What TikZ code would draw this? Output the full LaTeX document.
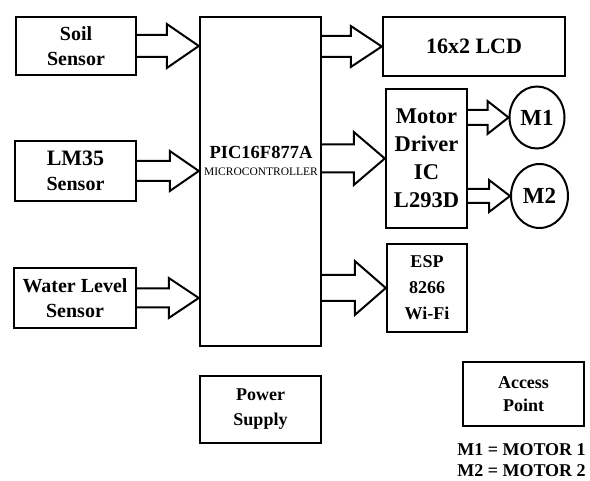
\documentclass[tikz,border=0pt]{standalone}
\usepackage{fontspec}
\setmainfont{Liberation Serif}
\usetikzlibrary{calc,shapes.geometric}

\tikzset{
    box/.style={draw,line width=2.4pt,inner sep=0pt,align=center,
        font=\bfseries\fontsize{20}{25}\selectfont},
    motor/.style={draw,ellipse,line width=2pt,inner sep=0pt,
        font=\bfseries\fontsize{23}{26}\selectfont},
    fatarrow/.style={line width=2pt,line join=miter}
}
% block arrow: start, tip, shaft half width, head half width, head length
\newcommand{\blockarrow}[5]{%
  \draw[fatarrow] ($(#1)+(0,-#3)$) -- ($(#2)+(-#5,-#3)$) -- ($(#2)+(-#5,-#4)$)
    -- (#2) -- ($(#2)+(-#5,#4)$) -- ($(#2)+(-#5,#3)$) -- ($(#1)+(0,#3)$);}

\begin{document}
\begin{tikzpicture}[x=1pt,y=-1pt]
\useasboundingbox (0,0) rectangle (590,481);
% inputs
\node[box,minimum width=120pt,minimum height=58pt] (soil) at (76,46) {Soil\\Sensor};
\node[box,minimum width=121pt,minimum height=60pt] (lm35) at (75.5,171) {{\fontsize{22}{25}\selectfont LM35}\\Sensor};
\node[box,minimum width=122pt,minimum height=60pt] (water) at (75,298) {Water Level\\Sensor};
% controller
\node[box,minimum width=121pt,minimum height=329pt] (mcu) at (260.5,181.5) {};
\node[align=center,font=\bfseries\fontsize{18.5}{17}\selectfont] (mcutext) at (261,161)
    {PIC16F877A\\{\mdseries\fontsize{11.5}{12}\selectfont MICROCONTROLLER}};
% outputs
\node[box,minimum width=182pt,minimum height=59pt,font=\bfseries\fontsize{22}{25}\selectfont] (lcd) at (474,46.5) {16x2 LCD};
\node[box,minimum width=81pt,minimum height=139pt,font=\bfseries\fontsize{22.5}{28}\selectfont] (drv) at (426.5,158.5) {Motor\\Driver\\IC\\L293D};
\node[motor,minimum width=55pt,minimum height=62pt] (m1) at (537,117.5) {M1};
\node[motor,minimum width=57pt,minimum height=64pt] (m2) at (539.5,196) {M2};
\node[box,minimum width=80pt,minimum height=88pt,font=\bfseries\fontsize{18}{26}\selectfont] (esp) at (427,288) {ESP\\8266\\Wi-Fi};
% others
\node[box,minimum width=121pt,minimum height=67pt,font=\bfseries\fontsize{18}{25}\selectfont] (power) at (260.5,409.5) {Power\\Supply};
\node[box,minimum width=121pt,minimum height=64pt,font=\bfseries\fontsize{18}{23}\selectfont] (access) at (523.5,394) {Access\\Point};
\node[align=center,font=\bfseries\fontsize{18}{21}\selectfont] (legend) at (521.5,460) {M1 = MOTOR 1\\M2 = MOTOR 2};
% arrows
\blockarrow{soil.east}{soil.east -| mcu.west}{11}{22}{32}
\blockarrow{lm35.east}{lm35.east -| mcu.west}{10}{20}{29}
\blockarrow{water.east}{water.east -| mcu.west}{9.5}{20}{30}
\blockarrow{lcd.west -| mcu.east}{lcd.west}{10.5}{20.5}{31}
\blockarrow{drv.west -| mcu.east}{drv.west}{14}{26.5}{31}
\blockarrow{esp.west -| mcu.east}{esp.west}{13}{27}{31}
\blockarrow{m1.west -| drv.east}{m1.west}{7.5}{16.5}{21}
\blockarrow{m2.west -| drv.east}{m2.west}{7}{16}{21}
\end{tikzpicture}
\end{document}
